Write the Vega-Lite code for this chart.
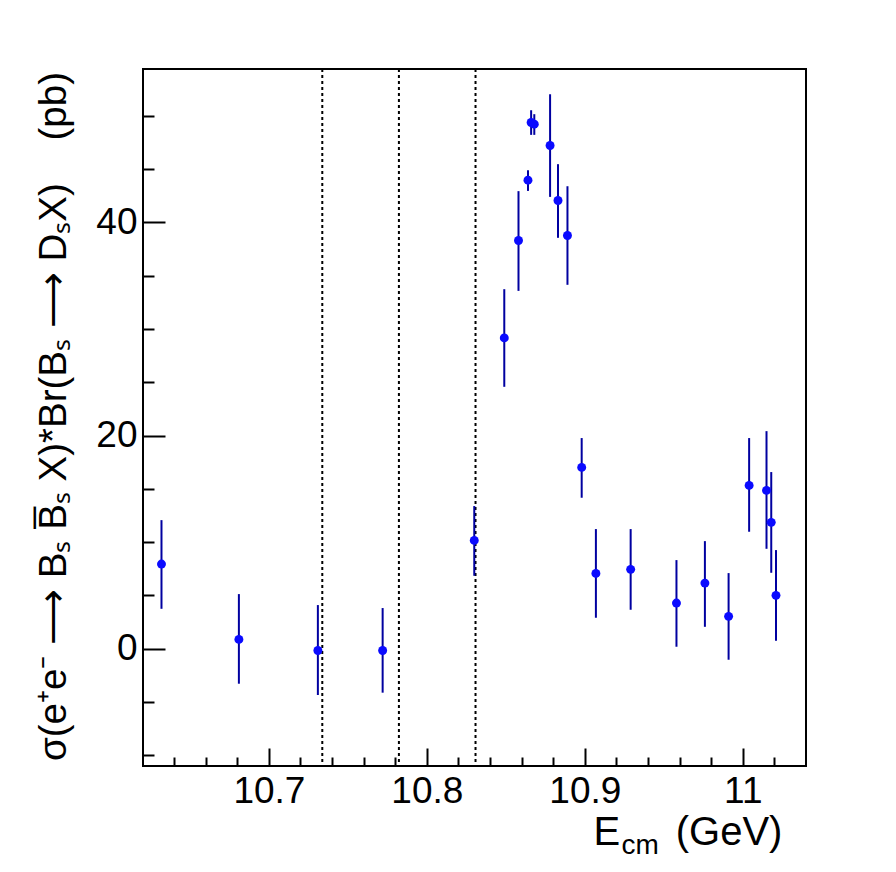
{
  "$schema": "https://vega.github.io/schema/vega-lite/v6.json",
  "width": 663,
  "height": 697,
  "autosize": "none",
  "padding": {"left": 143, "top": 69, "right": 90, "bottom": 106},
  "background": "white",
  "config": {
    "view": {"stroke": "black", "strokeWidth": 2},
    "axis": {"grid": false, "domain": false, "labelColor": "black", "titleColor": "black", "tickColor": "black"}
  },
  "data": {
    "values": [
      {"E": 10.632, "sigma": 7.95, "lo": 3.75, "hi": 12.07},
      {"E": 10.681, "sigma": 0.88, "lo": -3.28, "hi": 5.13},
      {"E": 10.731, "sigma": -0.16, "lo": -4.34, "hi": 4.1},
      {"E": 10.772, "sigma": -0.16, "lo": -4.12, "hi": 3.82},
      {"E": 10.83, "sigma": 10.17, "lo": 6.85, "hi": 13.39},
      {"E": 10.849, "sigma": 29.17, "lo": 24.58, "hi": 33.74},
      {"E": 10.858, "sigma": 38.31, "lo": 33.58, "hi": 42.94},
      {"E": 10.864, "sigma": 43.97, "lo": 42.96, "hi": 44.9},
      {"E": 10.866, "sigma": 49.38, "lo": 48.22, "hi": 50.53},
      {"E": 10.868, "sigma": 49.22, "lo": 48.22, "hi": 50.16},
      {"E": 10.878, "sigma": 47.22, "lo": 42.4, "hi": 52.03},
      {"E": 10.883, "sigma": 42.06, "lo": 38.56, "hi": 45.47},
      {"E": 10.889, "sigma": 38.78, "lo": 34.15, "hi": 43.4},
      {"E": 10.898, "sigma": 17.02, "lo": 14.17, "hi": 19.77},
      {"E": 10.907, "sigma": 7.07, "lo": 2.91, "hi": 11.23},
      {"E": 10.929, "sigma": 7.45, "lo": 3.66, "hi": 11.23},
      {"E": 10.958, "sigma": 4.29, "lo": 0.19, "hi": 8.32},
      {"E": 10.976, "sigma": 6.16, "lo": 2.06, "hi": 10.1},
      {"E": 10.991, "sigma": 3.04, "lo": -1.03, "hi": 7.1},
      {"E": 11.004, "sigma": 15.33, "lo": 10.98, "hi": 19.77},
      {"E": 11.015, "sigma": 14.86, "lo": 9.38, "hi": 20.42},
      {"E": 11.018, "sigma": 11.86, "lo": 7.13, "hi": 16.58},
      {"E": 11.021, "sigma": 5.01, "lo": 0.75, "hi": 9.26}
    ]
  },
  "layer": [
    {
      "data": {"values": [{"threshold": 10.7338}, {"threshold": 10.7823}, {"threshold": 10.8308}]},
      "mark": {"type": "rule", "color": "black", "strokeWidth": 2, "strokeDash": [3, 3]},
      "encoding": {
        "x": {
          "field": "threshold",
          "type": "quantitative",
          "scale": {"domain": [10.6203, 11.04], "nice": false, "zero": false},
          "axis": {
            "orient": "bottom",
            "labels": false,
            "ticks": false,
            "domain": false,
            "title": "cm",
            "titleFont": "Liberation Sans",
            "titleFontSize": 28,
            "titleFontWeight": "normal",
            "titleAlign": "left",
            "titleBaseline": "alphabetic",
            "titleX": 478,
            "titleY": 87
          }
        }
      }
    },
    {
      "mark": {"type": "rule", "color": "#0000a0", "strokeWidth": 2},
      "encoding": {
        "x": {
          "field": "E",
          "type": "quantitative",
          "scale": {"domain": [10.6203, 11.04], "nice": false, "zero": false},
          "axis": {
            "orient": "bottom",
            "values": [10.64, 10.66, 10.68, 10.7, 10.72, 10.74, 10.76, 10.78, 10.8, 10.82, 10.84, 10.86, 10.88, 10.9, 10.92, 10.94, 10.96, 10.98, 11, 11.02],
            "labelExpr": "abs(datum.value * 10 - round(datum.value * 10)) < 0.001 ? format(datum.value, '.3~g') : ''",
            "tickSize": {"condition": {"test": "abs(datum.value * 10 - round(datum.value * 10)) < 0.001", "value": -18}, "value": -9},
            "tickWidth": 2,
            "labelFont": "Liberation Sans",
            "labelFontSize": 37,
            "labelPadding": 25,
            "labelFlush": false,
            "labelOverlap": false,
            "title": "E\u00a0\u00a0\u00a0\u00a0\u00a0(GeV)",
            "titleFont": "Liberation Sans",
            "titleFontSize": 40,
            "titleFontWeight": "normal",
            "titleAlign": "left",
            "titleBaseline": "alphabetic",
            "titleX": 450,
            "titleY": 78
          }
        },
        "y": {
          "field": "lo",
          "type": "quantitative",
          "scale": {"domain": [-11, 54.4], "nice": false, "zero": false},
          "axis": {
            "values": [-10, -5, 0, 5, 10, 15, 20, 25, 30, 35, 40, 45, 50],
            "labelExpr": "datum.value % 20 === 0 ? datum.label : ''",
            "tickSize": {"condition": {"test": "datum.value % 20 === 0", "value": -22}, "value": -11},
            "tickWidth": 2,
            "labelFont": "Liberation Sans",
            "labelFontSize": 37,
            "labelPadding": 28,
            "labelOverlap": false,
            "title": "σ(e⁺e⁻ ⟶ Bₛ B\u0305ₛ X)*Br(Bₛ ⟶ DₛX)\u00a0\u00a0\u00a0\u00a0(pb)",
            "titleFont": "Liberation Sans",
            "titleFontSize": 38.5,
            "titleFontWeight": "normal",
            "titleAngle": 270,
            "titleAlign": "center",
            "titleBaseline": "alphabetic",
            "titleX": -78,
            "titleY": 347
          }
        },
        "y2": {"field": "hi"}
      }
    },
    {
      "mark": {"type": "circle", "color": "#0a0aff", "opacity": 1, "size": 80},
      "encoding": {
        "x": {"field": "E", "type": "quantitative", "axis": null},
        "y": {"field": "sigma", "type": "quantitative"}
      }
    }
  ],
  "resolve": {"axis": {"x": "independent"}}
}
